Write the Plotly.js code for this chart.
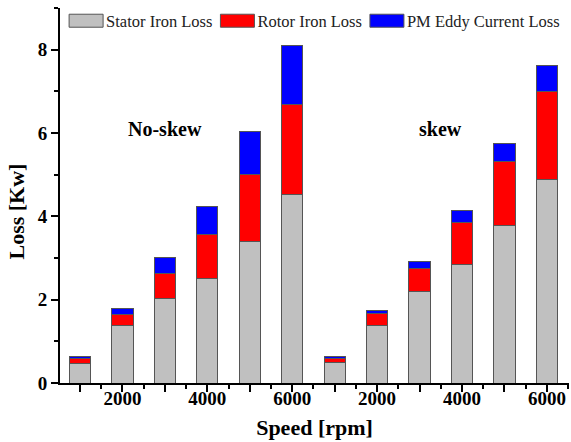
<!DOCTYPE html>
<html>
<head>
<meta charset="utf-8">
<script src="https://cdn.plot.ly/plotly-3.0.1.min.js"></script>
<style>
html,body{margin:0;padding:0;background:#fff;}
#chart{width:571px;height:442px;}
</style>
</head>
<body>
<div id="chart"></div>
<script>
// ---- data ----
var groups = ['No-skew', 'skew'];
var speeds = [1000, 2000, 3000, 4000, 5000, 6000];
var statorNoSkew = [0.48, 1.385, 2.03, 2.51, 3.40, 4.52];
var rotorNoSkew  = [0.11, 0.255, 0.61, 1.05, 1.61, 2.16];
var pmNoSkew     = [0.05, 0.14, 0.37, 0.67, 1.03, 1.41];
var statorSkew   = [0.49, 1.39, 2.19, 2.84, 3.77, 4.89];
var rotorSkew    = [0.10, 0.28, 0.57, 1.01, 1.55, 2.11];
var pmSkew       = [0.035, 0.06, 0.15, 0.30, 0.44, 0.63];
var seriesNames = ['Stator Iron Loss', 'Rotor Iron Loss', 'PM Eddy Current Loss'];
var tickLabelSpeeds = [2000, 4000, 6000];
var xTitle = 'Speed [rpm]';
var yTitle = 'Loss [Kw]';

// ---- build ----
var allSpeeds = speeds.concat(speeds);
var xPos = allSpeeds.map(function (s, i) { return i; });
var tickText = allSpeeds.map(function (s) { return tickLabelSpeeds.indexOf(s) >= 0 ? String(s) : ''; });
var colors = ['#c0c0c0', '#ff0000', '#0000ff'];
var values = [statorNoSkew.concat(statorSkew), rotorNoSkew.concat(rotorSkew), pmNoSkew.concat(pmSkew)];

var traces = values.map(function (v, k) {
  return {
    type: 'bar', x: xPos, y: v, name: seriesNames[k], width: 0.5,
    marker: { color: colors[k], line: { color: '#555555', width: 1 } },
    hoverinfo: 'skip'
  };
});

var serif = 'Liberation Serif, Times New Roman, serif';
var groupCenters = [2.0, 8.5];
var layout = {
  width: 571, height: 442,
  margin: { l: 60, r: 2, t: 8, b: 59 },
  barmode: 'stack',
  paper_bgcolor: '#ffffff', plot_bgcolor: '#ffffff',
  showlegend: true,
  legend: {
    orientation: 'h', x: 0.012, y: 1.012, xanchor: 'left', yanchor: 'top',
    bgcolor: 'rgba(0,0,0,0)', font: { family: serif, size: 16.5, color: '#222' },
    itemwidth: 30, traceorder: 'normal', tracegroupgap: 0
  },
  xaxis: {
    range: [-0.47, 11.52], showgrid: false, zeroline: false,
    showline: true, linecolor: '#000', linewidth: 2,
    tickmode: 'array', tickvals: xPos, ticktext: tickText,
    ticks: 'outside', ticklen: 7, tickwidth: 2, tickcolor: '#000',
    ticklabelstandoff: -10,
    minor: { tickmode: 'linear', tick0: 0.5, dtick: 1, ticks: 'outside', ticklen: 4, tickwidth: 2, tickcolor: '#000', showgrid: false },
    tickfont: { family: serif, size: 19, color: '#000', weight: 'bold' },
    title: { text: '<b>' + xTitle + '</b>', font: { family: serif, size: 22, color: '#000' }, standoff: 12 }
  },
  yaxis: {
    range: [0, 9], showgrid: false, zeroline: false,
    showline: true, linecolor: '#000', linewidth: 2,
    tickmode: 'linear', tick0: 0, dtick: 2,
    ticks: 'outside', ticklen: 7, tickwidth: 2, tickcolor: '#000',
    minor: { tickmode: 'linear', tick0: 0, dtick: 1, ticks: 'outside', ticklen: 4, tickwidth: 2, tickcolor: '#000', showgrid: false },
    tickfont: { family: serif, size: 19, color: '#000', weight: 'bold' },
    title: { text: '' }
  },
  annotations: groups.map(function (g, i) {
    return {
      x: groupCenters[i], y: 6.1, xref: 'x', yref: 'y', text: '<b>' + g + '</b>',
      showarrow: false, font: { family: serif, size: 20, color: '#000' }
    };
  }).concat([{
    x: -0.0874, y: 0.456, xref: 'paper', yref: 'paper', xanchor: 'center', yanchor: 'middle',
    text: '<b>' + yTitle + '</b>',
    textangle: -90, showarrow: false, font: { family: serif, size: 22, color: '#000' }
  }])
};

var gd = document.getElementById('chart');
function widenLegendIcons() {
  var paths = gd.querySelectorAll('.legend .legendpoints path');
  paths.forEach(function (p) { p.setAttribute('d', 'M17,6.5H-17V-6.5H17Z'); });
}
Plotly.newPlot(gd, traces, layout, { displayModeBar: false, staticPlot: true }).then(function () {
  widenLegendIcons();
  gd.on('plotly_afterplot', widenLegendIcons);
});
</script>
</body>
</html>
